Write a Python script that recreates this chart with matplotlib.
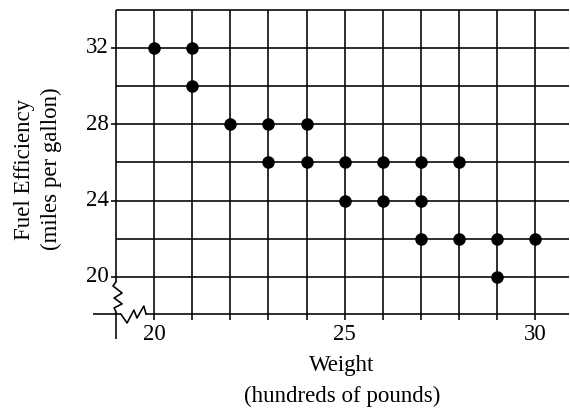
import matplotlib
matplotlib.use("Agg")
import matplotlib.pyplot as plt

weight = [20, 21, 21, 22, 23, 23, 24, 24, 25, 25, 26, 26, 27, 27, 27, 28, 28, 29, 29, 30]
mpg = [32, 32, 30, 28, 28, 26, 28, 26, 26, 24, 26, 24, 26, 24, 22, 26, 22, 22, 20, 22]

x_grid = list(range(20, 31))
y_grid = [20, 22, 24, 26, 28, 30, 32, 34]
x_labels = [20, 25, 30]
y_labels = [20, 24, 28, 32]

plt.rcParams['font.family'] = ['Liberation Serif', 'DejaVu Serif']

fig = plt.figure(figsize=(5.7, 4.08), dpi=100)
ax = fig.add_axes([0, 0, 1, 1])
ax.set_xlim(15.955, 30.916)
ax.set_ylim(13.14, 34.50)
ax.axis('off')

lw = 1.15
x0 = 19
x_right = 30.9
y_bot = 18.05

# vertical grid lines, with little ticks below the axis
for x in x_grid:
    ax.plot([x, x], [y_bot - 0.3, 34], color='black', lw=lw, solid_capstyle='butt')

# horizontal grid lines
for y in y_grid:
    start = x0 - 0.12 if y in y_labels else x0
    ax.plot([start, x_right], [y, y], color='black', lw=lw, solid_capstyle='butt')

# left axis with a break
ax.plot([x0, x0], [34, 19.74], color='black', lw=lw, solid_capstyle='butt')
zx = [x0, 18.92, 19.16, 18.95, 19.16, 18.95, x0]
zy = [19.74, 19.53, 19.16, 18.90, 18.59, 18.38, 18.17]
ax.plot(zx, zy, color='black', lw=lw)
ax.plot([x0, x0], [18.17, 16.75], color='black', lw=lw, solid_capstyle='butt')

# bottom axis with a break
ax.plot([18.4, 19.13], [y_bot, y_bot], color='black', lw=lw, solid_capstyle='butt')
bx = [19.13, 19.29, 19.47, 19.55, 19.73, 19.79]
by = [y_bot, 17.59, 18.27, 17.85, 18.48, y_bot]
ax.plot(bx, by, color='black', lw=lw)
ax.plot([19.79, x_right], [y_bot, y_bot], color='black', lw=lw, solid_capstyle='butt')

ax.scatter(weight, mpg, s=64, color='black', zorder=5)

fs = 16.5
for x in x_labels:
    ax.text(x, 17.0, str(x), ha='center', va='center', fontsize=fs)
for y in y_labels:
    ax.text(18.8, y, str(y), ha='right', va='center', fontsize=fs)

ax.text(24.93, 15.35, 'Weight', ha='center', va='center', fontsize=fs)
ax.text(24.93, 13.75, '(hundreds of pounds)', ha='center', va='center', fontsize=fs)

ax.text(16.6, 25.65, 'Fuel Efficiency', ha='center', va='center', rotation=90, fontsize=fs)
ax.text(17.3, 25.65, '(miles per gallon)', ha='center', va='center', rotation=90, fontsize=fs)

fig.savefig('out.png', dpi=100)
